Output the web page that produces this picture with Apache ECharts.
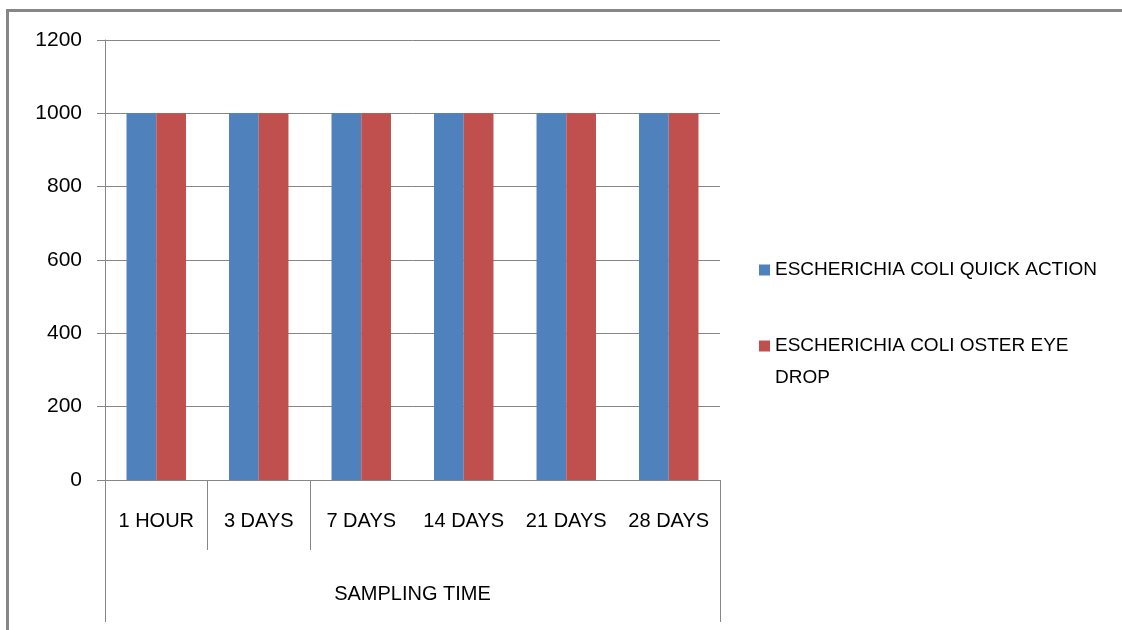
<!DOCTYPE html>
<html>
<head>
<meta charset="utf-8">
<script src="https://cdn.jsdelivr.net/npm/echarts@6/dist/echarts.min.js"></script>
<style>
  html, body { margin: 0; padding: 0; background: #fff; }
  #frame { position: absolute; left: 6px; top: 9px; width: 1122px; height: 640px;
           border-top: 3px solid #878787; border-left: 3px solid #878787; box-sizing: border-box; }
  #chart { position: absolute; left: 0; top: 0; width: 1122px; height: 630px; }
</style>
</head>
<body>
<div id="frame"></div>
<div id="chart"></div>
<script>
const categories = ['1 HOUR', '3 DAYS', '7 DAYS', '14 DAYS', '21 DAYS', '28 DAYS'];
const seriesNames = ['ESCHERICHIA COLI QUICK ACTION', 'ESCHERICHIA COLI OSTER EYE DROP'];
const quickAction = [1000, 1000, 1000, 1000, 1000, 1000];
const osterEyeDrop = [1000, 1000, 1000, 1000, 1000, 1000];
const axisTitle = 'SAMPLING TIME';
const yMin = 0, yMax = 1200, yStep = 200;

const gray = '#868686';
const font = 'Liberation Sans, Arial, sans-serif';
const chart = echarts.init(document.getElementById('chart'), null, { renderer: 'canvas' });

chart.setOption({
  animation: false,
  backgroundColor: 'transparent',
  textStyle: { fontFamily: font, color: '#000' },
  grid: { left: 105, right: 402, top: 40, bottom: 150, containLabel: false },
  legend: [
    {
      data: [seriesNames[0]],
      orient: 'vertical', left: 759, top: 254, padding: 0,
      itemWidth: 11, itemHeight: 11, itemGap: 0,
      icon: 'rect',
      textStyle: { fontSize: 19, color: '#000', fontFamily: font, lineHeight: 32 }
    },
    {
      data: [seriesNames[1]],
      orient: 'vertical', left: 759, top: 298, padding: 0,
      itemWidth: 11, itemHeight: 11, itemGap: 0,
      icon: 'rect',
      formatter: function (n) { return '\u00a0\nESCHERICHIA COLI OSTER EYE\nDROP'; },
      textStyle: { fontSize: 19, color: '#000', fontFamily: font, lineHeight: 32 }
    }
  ],
  xAxis: [
    {
      type: 'category',
      data: categories,
      position: 'bottom',
      axisLine: { show: true, lineStyle: { color: gray, width: 1 } },
      axisTick: {
        show: true, length: 70, inside: false,
        interval: function (i) { return i === 1 || i === 2; },
        lineStyle: { color: gray, width: 1 }
      },
      axisLabel: { fontSize: 20, color: '#000', margin: 31, interval: 0, fontFamily: font },
      name: axisTitle,
      nameLocation: 'middle',
      nameGap: 104,
      nameTextStyle: { fontSize: 20, color: '#000', fontFamily: font },
      splitLine: { show: false }
    },
    {
      type: 'category',
      data: categories,
      position: 'bottom',
      offset: 0,
      axisLine: { show: false },
      axisTick: {
        show: true, length: 142, inside: false,
        interval: function (i) { return i === 0; },
        lineStyle: { color: gray, width: 1 }
      },
      axisLabel: { show: false },
      splitLine: { show: false }
    }
  ],
  yAxis: {
    type: 'value',
    min: yMin, max: yMax, interval: yStep,
    axisLine: { show: true, lineStyle: { color: gray, width: 1 } },
    axisTick: { show: true, length: 8, lineStyle: { color: gray, width: 1 } },
    axisLabel: { fontSize: 21, color: '#000', margin: 23, fontFamily: font,
                 formatter: function (v) { return String(v); } },
    splitLine: { show: true, lineStyle: { color: gray, width: 1 } }
  },
  series: [
    {
      name: seriesNames[0], type: 'bar', data: quickAction,
      itemStyle: { color: '#4F81BD' },
      barGap: '0%', barCategoryGap: '42%'
    },
    {
      name: seriesNames[1], type: 'bar', data: osterEyeDrop,
      itemStyle: { color: '#C0504D' },
      barGap: '0%', barCategoryGap: '42%'
    }
  ]
});
</script>
</body>
</html>
